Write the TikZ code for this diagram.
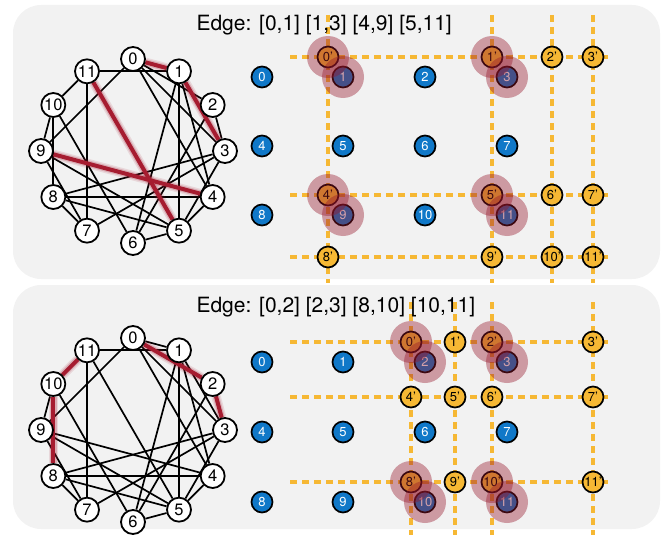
\documentclass[tikz,border=0pt]{standalone}
\usepackage{fontspec}
\setmainfont{TeX Gyre Heros}
\usetikzlibrary{calc}

\definecolor{panelgray}{RGB}{242,242,242}
\definecolor{qblue}{RGB}{16,120,200}
\definecolor{qorange}{RGB}{246,184,52}
\definecolor{glowred}{RGB}{166,28,48}
\definecolor{halored}{RGB}{150,22,42}

\pgfdeclarelayer{bg}
\pgfdeclarelayer{wires}
\pgfsetlayers{bg,wires,main}

\tikzset{
  panel/.style={fill=panelgray, rounded corners=28pt},
  gnode/.style={circle, draw=black, line width=1.8pt, fill=white,
    minimum size=24pt, inner sep=0pt, font=\fontsize{16.5}{16.5}\selectfont},
  gedge/.style={line width=1.7pt, draw=black},
  hiedge/.style={line width=4pt, draw=glowred},
  glowwide/.style={line width=9.5pt, draw=glowred, draw opacity=0.12},
  glowmid/.style={line width=6.5pt, draw=glowred, draw opacity=0.22},
  lnode/.style={circle, draw=black, line width=1.7pt, fill=qblue, text=white,
    minimum size=21pt, inner sep=0pt, font=\fontsize{13}{13}\selectfont},
  pnode/.style={circle, draw=black, line width=1.7pt, fill=qorange, text=black,
    minimum size=21pt, inner sep=0pt, font=\fontsize{13}{13}\selectfont},
  lattice/.style={draw=qorange, line width=3.3pt, dash pattern=on 7pt off 5pt},
  halo/.style={circle, fill=halored, fill opacity=0.4, draw=none,
    minimum size=42pt, inner sep=0pt},
  title/.style={anchor=base west, font=\fontsize{21}{21}\selectfont},
}

% Ring of 12 vertices with the interaction edges; #1 name prefix,
% #2/#3 centre, #4 highlighted edges.
\newcommand\ringgraph[4]{%
  \foreach \k in {0,...,11}
    \node[gnode] (#1\k) at ({#2+92*cos(90-30*\k)},{#3-92*sin(90-30*\k)}) {\k};
  \begin{pgfonlayer}{wires}
    \foreach \a/\b in {0/1,0/2,0/3,0/4,0/9,1/3,1/4,1/5,1/6,1/11,2/3,2/6,
                       3/5,3/7,3/8,4/5,4/8,4/9,5/6,5/8,5/9,5/11,6/10,
                       7/8,7/9,7/11,8/10,9/10,10/11}
      \draw[gedge] (#1\a) -- (#1\b);
    \foreach \a/\b in {#4} {
      \draw[glowwide] (#1\a) -- (#1\b);
      \draw[glowmid] (#1\a) -- (#1\b);
      \draw[hiedge] (#1\a) -- (#1\b);
    }
  \end{pgfonlayer}
}

\begin{document}
\begin{tikzpicture}[x=1pt,y=-1pt]
\useasboundingbox (0,0) rectangle (664,535);

\begin{pgfonlayer}{bg}
  \fill[panel] (13,5) rectangle (660,279);
  \fill[panel] (13,285) rectangle (660,529);
\end{pgfonlayer}

% ---------- upper panel ----------
\node[title] (titleA) at (193,31) {Edge: [0,1] [1,3] [4,9] [5,11]};
\ringgraph{ga}{133}{151}{0/1,1/3,4/9,5/11}

\begin{pgfonlayer}{wires}
  \foreach \y in {57,195,257}
    \draw[lattice] (290,\y) -- (608,\y);
  \foreach \x in {328,492,552,593}
    \draw[lattice] (\x,15) -- (\x,283);
\end{pgfonlayer}

\foreach \r/\y in {0/77,1/146,2/215}
  \foreach \c/\x in {0/262,1/343,2/425,3/507} {
    \pgfmathtruncatemacro\i{4*\r+\c}
    \node[lnode] (la\i) at (\x,\y) {\i};
  }
\foreach \r/\y in {0/57,1/195,2/257}
  \foreach \c/\x in {0/328,1/492,2/552,3/593} {
    \pgfmathtruncatemacro\i{4*\r+\c}
    \node[pnode] (pa\i) at (\x,\y) {\i'};
  }

\foreach \p/\q in {0/1,1/3,4/9,5/11} {
  \node[halo] (hpa\p) at (pa\p) {};
  \node[halo] (hla\q) at (la\q) {};
}

% ---------- lower panel ----------
\node[title] (titleB) at (193,312) {Edge: [0,2] [2,3] [8,10] [10,11]};
\ringgraph{gb}{133}{430}{0/2,2/3,8/10,10/11}

\begin{pgfonlayer}{wires}
  \foreach \y in {342,397,482}
    \draw[lattice] (290,\y) -- (608,\y);
  \foreach \x in {411,455,492,593}
    \draw[lattice] (\x,302) -- (\x,535);
\end{pgfonlayer}

\foreach \r/\y in {0/362,1/432,2/502}
  \foreach \c/\x in {0/262,1/343,2/425,3/507} {
    \pgfmathtruncatemacro\i{4*\r+\c}
    \node[lnode] (lb\i) at (\x,\y) {\i};
  }
\foreach \r/\y in {0/342,1/397,2/482}
  \foreach \c/\x in {0/411,1/455,2/492,3/593} {
    \pgfmathtruncatemacro\i{4*\r+\c}
    \node[pnode] (pb\i) at (\x,\y) {\i'};
  }

\foreach \p/\q in {0/2,2/3,8/10,10/11} {
  \node[halo] (hpb\p) at (pb\p) {};
  \node[halo] (hlb\q) at (lb\q) {};
}
\end{tikzpicture}
\end{document}
